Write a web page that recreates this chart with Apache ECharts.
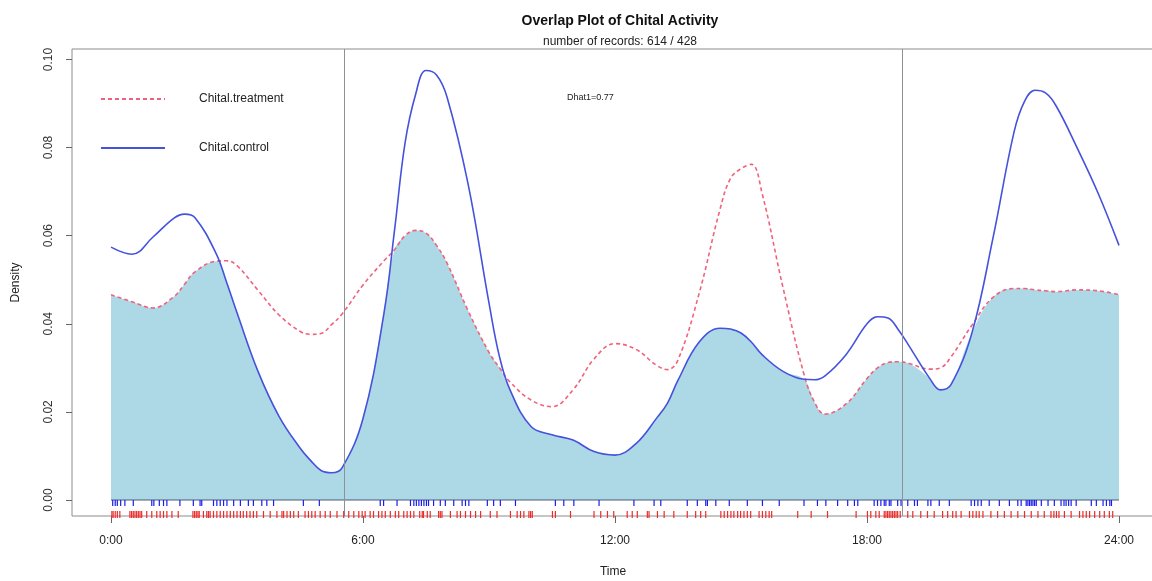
<!DOCTYPE html>
<html>
<head>
<meta charset="utf-8">
<script src="https://cdn.jsdelivr.net/npm/echarts@6/dist/echarts.min.js"></script>
<style>
  html, body { margin: 0; padding: 0; background: #ffffff; }
  #chart { width: 1152px; height: 581px; }
</style>
</head>
<body>
<div id="chart"></div>
<script>
// Kernel density of activity over the 24 h clock (half-hour steps, extra points near turns)
const hours = [0, 0.5, 1, 1.5, 1.75, 2, 2.5, 2.75, 3, 3.5, 4, 4.5, 4.75, 5, 5.25, 5.5, 6, 6.5, 6.75,
  7, 7.25, 7.5, 7.75, 8, 8.5, 9, 9.25, 9.5, 10, 10.5, 11, 11.5, 12, 12.5, 13, 13.25, 13.5, 14, 14.5,
  14.75, 15, 15.25, 15.5, 16, 16.5, 16.75, 17, 17.5, 18, 18.25, 18.5, 18.75, 19, 19.5, 19.75, 20,
  20.5, 21, 21.5, 21.75, 22, 22.25, 22.5, 23, 23.5, 24];

const treatment = [0.0466, 0.0450, 0.0436, 0.0462, 0.0490, 0.0518, 0.0542, 0.0543, 0.0532, 0.0476,
  0.0420, 0.0383, 0.0376, 0.0378, 0.0398, 0.0422, 0.0488, 0.0543, 0.0568,
  0.0600, 0.0612, 0.0606, 0.0578, 0.0538, 0.0430, 0.0335, 0.0300, 0.0268, 0.0227, 0.0212, 0.0250,
  0.0320, 0.0355, 0.0342, 0.0305, 0.0296, 0.0318, 0.0468, 0.0660,
  0.0730, 0.0752, 0.0762, 0.0697, 0.0482, 0.0285, 0.0222, 0.0195, 0.0218, 0.0276, 0.0300, 0.0312,
  0.0314, 0.0310, 0.0297, 0.0300, 0.0325,
  0.0397, 0.0460, 0.0480, 0.0480, 0.0477, 0.0475, 0.0473, 0.0477, 0.0475, 0.0466];

const control = [0.0574, 0.0558, 0.0597, 0.0640, 0.0649, 0.0641, 0.0560, 0.0495, 0.0425, 0.0292,
  0.0190, 0.0118, 0.0090, 0.0067, 0.0062, 0.0073, 0.0185, 0.0425, 0.0612,
  0.0810, 0.0920, 0.0975, 0.0965, 0.0915, 0.0718, 0.0447, 0.0325, 0.0250, 0.0167, 0.0148, 0.0136,
  0.0110, 0.0102, 0.0128, 0.0187, 0.0220, 0.0272, 0.0358, 0.0390,
  0.0388, 0.0379, 0.0358, 0.0330, 0.0292, 0.0274, 0.0273, 0.0282, 0.0330, 0.0400, 0.0416, 0.0413,
  0.0386, 0.0350, 0.0275, 0.0250, 0.0262,
  0.0380, 0.0595, 0.0835, 0.0905, 0.0930, 0.0924, 0.0895, 0.0800, 0.0697, 0.0578];

// Sunrise and sunset (hours)
const sunTimes = [5.55, 18.83];

// Record times (hours) shown as rug ticks under the curves
const controlRug = [0.04, 0.10, 0.15, 0.23, 0.33, 0.53, 0.97, 1.02, 1.15, 1.25, 1.33, 1.64, 1.96, 2.12,
  2.16, 2.44, 2.52, 2.60, 2.68, 2.76, 2.92, 3.08, 3.27, 3.39, 3.59, 3.71, 3.87, 4.58, 4.96, 6.41, 6.49,
  6.81, 7.13, 7.21, 7.27, 7.33, 7.39, 7.45, 7.51, 7.56, 7.68, 7.84, 7.96, 8.16, 8.36, 8.44, 8.52, 8.96,
  9.11, 9.27, 9.63, 10.58, 10.78, 11.02, 11.62, 12.45, 12.93, 13.09, 13.72, 13.96, 14.16, 14.20, 14.40,
  14.72, 15.15, 15.51, 15.91, 16.50, 16.82, 17.02, 17.30, 17.54, 17.70, 17.78, 18.17, 18.25, 18.33,
  18.41, 18.45, 18.53, 18.57, 18.73, 18.81, 18.97, 19.13, 19.20, 19.45, 19.52, 19.72, 19.96, 20.48,
  20.56, 20.64, 20.72, 20.91, 21.15, 21.39, 21.59, 21.67, 21.79, 21.83, 21.87, 21.91, 21.95, 21.99,
  22.03, 22.15, 22.31, 22.46, 22.62, 22.69, 22.74, 22.80, 22.86, 22.98, 23.34, 23.46, 23.62, 23.70,
  23.78, 23.82];

const treatmentRug = [0.02, 0.05, 0.10, 0.15, 0.21, 0.45, 0.49, 0.53, 0.57, 0.61, 0.65, 0.69, 0.73,
  0.85, 0.97, 1.09, 1.17, 1.25, 1.33, 1.45, 1.60, 1.95, 1.99, 2.03, 2.07, 2.10, 2.20, 2.28, 2.32, 2.36,
  2.44, 2.52, 2.60, 2.68, 2.76, 2.84, 2.92, 3.00, 3.08, 3.15, 3.23, 3.31, 3.39, 3.47, 3.63, 3.79, 3.95,
  4.07, 4.11, 4.19, 4.27, 4.35, 4.46, 4.62, 4.70, 4.78, 4.86, 4.98, 5.10, 5.22, 5.38, 5.54, 5.66, 5.78,
  5.90, 5.98, 6.05, 6.17, 6.25, 6.37, 6.45, 6.53, 6.65, 6.77, 6.85, 6.97, 7.05, 7.13, 7.21, 7.35, 7.41,
  7.44, 7.53, 7.60, 7.80, 7.84, 7.88, 8.08, 8.24, 8.32, 8.44, 8.56, 8.68, 8.80, 9.03, 9.19, 9.51, 9.67,
  9.75, 9.83, 9.95, 9.99, 10.03, 10.51, 10.58, 10.94, 11.50, 11.66, 11.82, 11.97, 12.29, 12.41, 12.53,
  12.77, 12.81, 13.01, 13.17, 13.40, 13.72, 13.92, 14.04, 14.16, 14.52, 14.60, 14.68, 14.76, 14.83,
  14.92, 14.99, 15.07, 15.15, 15.23, 15.43, 15.51, 15.59, 15.67, 15.73, 16.35, 16.67, 17.06, 17.74,
  18.01, 18.09, 18.21, 18.29, 18.41, 18.45, 18.49, 18.53, 18.57, 18.61, 18.65, 18.69, 18.73, 18.79,
  18.97, 19.09, 19.28, 19.44, 19.60, 19.80, 19.92, 20.04, 20.12, 20.24, 20.44, 20.52, 20.60, 20.67,
  20.76, 20.95, 21.11, 21.27, 21.43, 21.59, 21.75, 21.91, 22.07, 22.22, 22.38, 22.45, 22.51, 22.57,
  22.70, 22.86, 23.06, 23.14, 23.22, 23.30, 23.42, 23.54, 23.65, 23.77, 23.85];

const hourTicks = [0, 6, 12, 18, 24];
const hourLabels = ['0:00', '6:00', '12:00', '18:00', '24:00'];
const densityTicks = [0, 0.02, 0.04, 0.06, 0.08, 0.10];
const densityLabels = ['0.00', '0.02', '0.04', '0.06', '0.08', '0.10'];

const titleText = 'Overlap Plot of Chital Activity';
const subtitleText = 'number of records: 614 / 428';
const overlapText = 'Dhat1=0.77';

const FONT = '"Liberation Sans", Arial, Helvetica, sans-serif';

const pairs = (vals) => hours.map((h, i) => [h, vals[i]]);
const overlapArea = hours.map((h, i) => [h, Math.min(treatment[i], control[i])]);

// Rug ticks: x from the record time, drawn a fixed number of pixels below the zero line
function rugRenderer(top, bottom, color) {
  return function (params, api) {
    const p = api.coord([api.value(0), 0]);
    return {
      type: 'line',
      shape: { x1: p[0], y1: p[1] + top, x2: p[0], y2: p[1] + bottom },
      style: { stroke: color, lineWidth: 1.2 }
    };
  };
}

const chart = echarts.init(document.getElementById('chart'), null, { renderer: 'canvas' });

chart.setOption({
  animation: false,
  backgroundColor: '#ffffff',
  textStyle: { fontFamily: FONT },
  title: {
    text: titleText,
    subtext: subtitleText,
    left: 615,
    textAlign: 'center',
    top: 9,
    itemGap: 8,
    textStyle: { fontFamily: FONT, fontSize: 14, fontWeight: 'bold', color: '#111' },
    subtextStyle: { fontFamily: FONT, fontSize: 12, color: '#222' }
  },
  legend: {
    orient: 'vertical',
    left: 100,
    top: 93,
    padding: 0,
    itemWidth: 64,
    itemHeight: 14,
    itemGap: 37,
    selectedMode: false,
    itemStyle: { opacity: 0, borderWidth: 0 },
    data: ['Chital.treatment', 'Chital.control'],
    textStyle: { fontFamily: FONT, fontSize: 12, color: '#222', padding: [0, 0, 0, 29] }
  },
  grid: {
    left: 72,
    right: -2,
    top: 49,
    bottom: 65,
    outerBoundsMode: 'none',
    containLabel: false,
    show: true,
    borderColor: '#8c8c8c',
    borderWidth: 1,
    backgroundColor: 'transparent'
  },
  xAxis: {
    type: 'value',
    min: -0.929,
    max: 24.833,
    name: 'Time',
    nameLocation: 'middle',
    nameGap: 50,
    nameTextStyle: { fontFamily: FONT, fontSize: 12, color: '#222' },
    axisLine: { show: false, onZero: false },
    splitLine: { show: false },
    axisTick: { show: true, customValues: hourTicks, length: 7, lineStyle: { color: '#666' } },
    axisLabel: {
      customValues: hourTicks,
      margin: 19,
      fontSize: 12,
      color: '#222',
      fontFamily: FONT,
      formatter: (v) => hourLabels[hourTicks.indexOf(v)]
    }
  },
  yAxis: {
    type: 'value',
    min: -0.00363,
    max: 0.10238,
    name: 'Density',
    nameLocation: 'middle',
    nameRotate: 90,
    nameGap: 50,
    nameTextStyle: { fontFamily: FONT, fontSize: 12, color: '#222' },
    axisLine: { show: false, onZero: false },
    splitLine: { show: false },
    axisTick: { show: true, customValues: densityTicks, length: 6, lineStyle: { color: '#666' } },
    axisLabel: {
      customValues: densityTicks,
      rotate: 90,
      margin: 17,
      fontSize: 12,
      color: '#333',
      fontFamily: FONT,
      formatter: (v) => densityLabels[densityTicks.findIndex((t) => Math.abs(t - v) < 1e-9)]
    }
  },
  graphic: [
    {
      type: 'text',
      left: 567,
      top: 93,
      style: { text: overlapText, fontSize: 9, fontFamily: FONT, fill: '#222' }
    }
  ],
  series: [
    {
      name: 'overlap',
      type: 'line',
      data: overlapArea,
      smooth: 0.4,
      showSymbol: false,
      lineStyle: { width: 0 },
      areaStyle: { color: '#add8e6', opacity: 1 },
      z: 1,
      silent: true
    },
    {
      name: 'baseline',
      type: 'line',
      data: [[hours[0], 0], [hours[hours.length - 1], 0]],
      showSymbol: false,
      lineStyle: { color: '#4a5a78', width: 1 },
      z: 2,
      silent: true,
      markLine: {
        silent: true,
        symbol: ['none', 'none'],
        label: { show: false },
        lineStyle: { color: '#8d9296', type: 'solid', width: 1 },
        data: sunTimes.map((t) => ({ xAxis: t }))
      }
    },
    {
      name: 'Chital.treatment',
      type: 'line',
      data: pairs(treatment),
      smooth: 0.4,
      showSymbol: false,
      symbol: 'none',
      color: '#f0627c',
      lineStyle: { color: '#f0627c', width: 1.6, type: [4, 3] },
      z: 3
    },
    {
      name: 'Chital.control',
      type: 'line',
      data: pairs(control),
      smooth: 0.4,
      showSymbol: false,
      symbol: 'none',
      color: '#4452dc',
      lineStyle: { color: '#4452dc', width: 1.6 },
      z: 4
    },
    {
      name: 'control records',
      type: 'custom',
      data: controlRug.map((t) => [t, 0]),
      renderItem: rugRenderer(0, 6, '#1c1cf0'),
      clip: false,
      silent: true,
      z: 5
    },
    {
      name: 'treatment records',
      type: 'custom',
      data: treatmentRug.map((t) => [t, 0]),
      renderItem: rugRenderer(11, 18, '#ee2a2a'),
      clip: false,
      silent: true,
      z: 5
    }
  ]
});
</script>
</body>
</html>
